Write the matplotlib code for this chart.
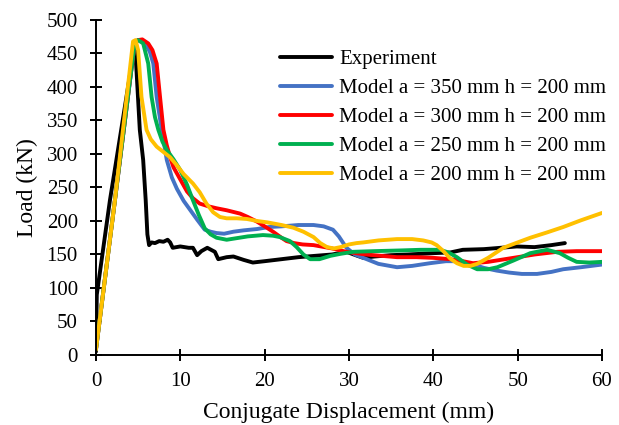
import matplotlib
matplotlib.use("Agg")
import matplotlib.pyplot as plt

plt.rcParams['font.family'] = ['Liberation Serif', 'DejaVu Serif']

# Experiment
exp_x = [0.0, 0.1, 1.66, 4.63, 5.2, 5.6, 5.9, 6.1, 6.3, 6.6, 7.0, 7.5, 8.0, 8.5, 8.8, 9.1, 10.0, 11.0, 11.5,
         12.0, 12.5, 13.2, 14.1, 14.5, 15.5, 16.3, 17.5, 18.6, 20.0, 22.0, 24.0, 26.0, 28.0, 29.7,
         31.0, 31.7, 33.0, 35.0, 37.0, 40.0, 42.0, 43.5, 46.0, 48.0, 49.9, 52.0, 54.0, 55.6]
exp_y = [5, 90, 231, 465, 336, 291, 231, 180, 164, 168, 167, 170, 169, 172, 168, 160, 162, 160, 160,
         149, 155, 160, 154, 143, 146, 147, 142, 138, 140, 143, 146, 148, 150, 154,
         148, 145, 147, 149, 150, 152, 153, 157, 158, 160, 162, 161, 164, 167]

# Model a = 350 mm
m350_x = [0.0, 2.25, 4.6, 5.0, 5.5, 6.0, 6.4, 6.8, 7.2, 7.8, 8.4, 9.0, 9.6, 10.4, 11.2, 12.0, 12.9,
          13.6, 14.3, 15.2, 16.3, 17.5, 19.1, 20.5, 22.0, 24.0, 25.8, 27.0, 28.1, 28.8, 29.7, 30.7,
          31.7, 33.5, 35.7, 37.5, 39.6, 41.5, 43.0, 44.5, 46.0, 47.5, 49.0, 50.5, 52.3, 54.0, 55.4,
          57.5, 60.0]
m350_y = [8, 231, 466, 470, 468, 462, 452, 435, 385, 336, 291, 265, 248, 230, 216, 202, 187,
          184, 182, 181, 184, 186, 188, 191, 192, 194, 194, 192, 187, 177, 160, 150,
          145, 136, 131, 133, 137, 140, 140, 136, 130, 126, 123, 121, 121, 124, 128,
          131, 135]

# Model a = 300 mm
m300_x = [0.0, 2.25, 4.6, 5.0, 5.5, 6.2, 6.7, 7.2, 7.6, 8.0, 8.4, 8.8, 9.2, 10.0, 10.8, 11.5, 12.3,
          13.3, 14.3, 15.5, 17.1, 18.0, 19.1, 20.0, 21.0, 22.0, 22.6, 23.5, 24.5, 25.8, 28.0, 29.7,
          32.0, 35.7, 38.0, 40.0, 42.0, 43.5, 44.7, 46.5, 48.0, 50.0, 52.0, 54.7, 57.0, 60.0]
m300_y = [8, 231, 466, 470, 471, 465, 455, 435, 385, 336, 313, 295, 280, 262, 244, 234, 226,
          222, 219, 216, 211, 206, 199, 192, 184, 175, 170, 167, 165, 164, 159, 154,
          150, 146, 146, 145, 143, 140, 137, 139, 142, 146, 150, 154, 155, 155]

# Model a = 250 mm
m250_x = [0.0, 2.25, 4.6, 5.0, 5.6, 6.2, 6.6, 7.0, 7.4, 7.9, 8.4, 9.2, 10.0, 10.8, 11.5, 12.2, 12.9,
          13.6, 14.3, 15.5, 16.5, 18.0, 19.8, 21.0, 21.8, 23.0, 23.8, 24.6, 25.4, 26.5, 27.8, 29.0,
          30.5, 33.0, 36.0, 38.5, 40.8, 41.8, 42.8, 44.0, 45.2, 46.5, 47.6, 49.5, 51.5, 53.5, 55.0,
          56.0, 57.0, 58.5, 60.0]
m250_y = [8, 231, 466, 470, 465, 435, 385, 355, 336, 318, 306, 292, 276, 254, 231, 209, 189,
          180, 175, 172, 174, 177, 179, 178, 176, 170, 161, 150, 143, 143, 148, 151,
          154, 155, 156, 157, 157, 153, 146, 135, 128, 128, 131, 141, 152, 157, 152,
          145, 139, 138, 139]

# Model a = 200 mm
m200_x = [0.0, 2.25, 4.4, 4.7, 5.0, 5.4, 6.0, 6.5, 7.2, 8.0, 8.8, 9.6, 10.4, 11.5, 12.3, 13.1, 13.9,
          14.7, 15.5, 16.7, 17.9, 19.1, 20.3, 22.0, 23.4, 24.6, 25.8, 26.6, 27.4, 28.2, 29.0, 30.0,
          30.9, 31.7, 33.5, 35.7, 37.5, 38.8, 39.8, 40.4, 41.2, 42.0, 42.8, 43.6, 44.4, 45.2, 46.5,
          48.3, 50.0, 51.5, 53.5, 55.4, 57.5, 60.0]
m200_y = [8, 231, 468, 470, 455, 385, 336, 322, 311, 303, 295, 283, 270, 256, 243, 226, 213,
          206, 204, 204, 203, 200, 198, 194, 190, 184, 176, 167, 161, 159, 161, 165,
          167, 168, 171, 173, 173, 171, 168, 164, 155, 144, 137, 133, 133, 136, 145,
          160, 168, 175, 183, 191, 201, 212]

series = [
    (exp_x, exp_y, "Experiment", "#000000"),
    (m350_x, m350_y, "Model a = 350 mm h = 200 mm", "#4472C4"),
    (m300_x, m300_y, "Model a = 300 mm h = 200 mm", "#FF0000"),
    (m250_x, m250_y, "Model a = 250 mm h = 200 mm", "#00B050"),
    (m200_x, m200_y, "Model a = 200 mm h = 200 mm", "#FFC000"),
]

fig = plt.figure(figsize=(6.19, 4.25), dpi=100)
ax = fig.add_axes([0.155, 0.1647, 0.8175, 0.7883])

for xs, ys, lab, col in series:
    ax.plot(xs, ys, color=col, lw=2.8, label=lab, solid_joinstyle='round', solid_capstyle='round')

ax.set_xlim(0, 60)
ax.set_ylim(0, 500)
ax.set_xticks(range(0, 61, 10))
ax.set_yticks(range(0, 501, 50))
for s in ['top', 'right']:
    ax.spines[s].set_visible(False)
for s in ['left', 'bottom']:
    ax.spines[s].set_linewidth(1.4)
ax.tick_params(direction='inout', length=8, width=1.4, labelsize=15)
ax.tick_params(axis='x', pad=8)
ax.tick_params(axis='y', pad=9)
ax.set_xlabel("Conjugate Displacement (mm)", fontsize=17, labelpad=8)
ax.set_ylabel("Load (kN)", fontsize=17, labelpad=6)

leg = ax.legend(loc='upper left', bbox_to_anchor=(0.364, 0.912), frameon=False, fontsize=15,
                handlelength=2.5, handletextpad=0.33, labelspacing=0.45, borderaxespad=0,
                borderpad=0)

fig.savefig("out.png", dpi=100)
